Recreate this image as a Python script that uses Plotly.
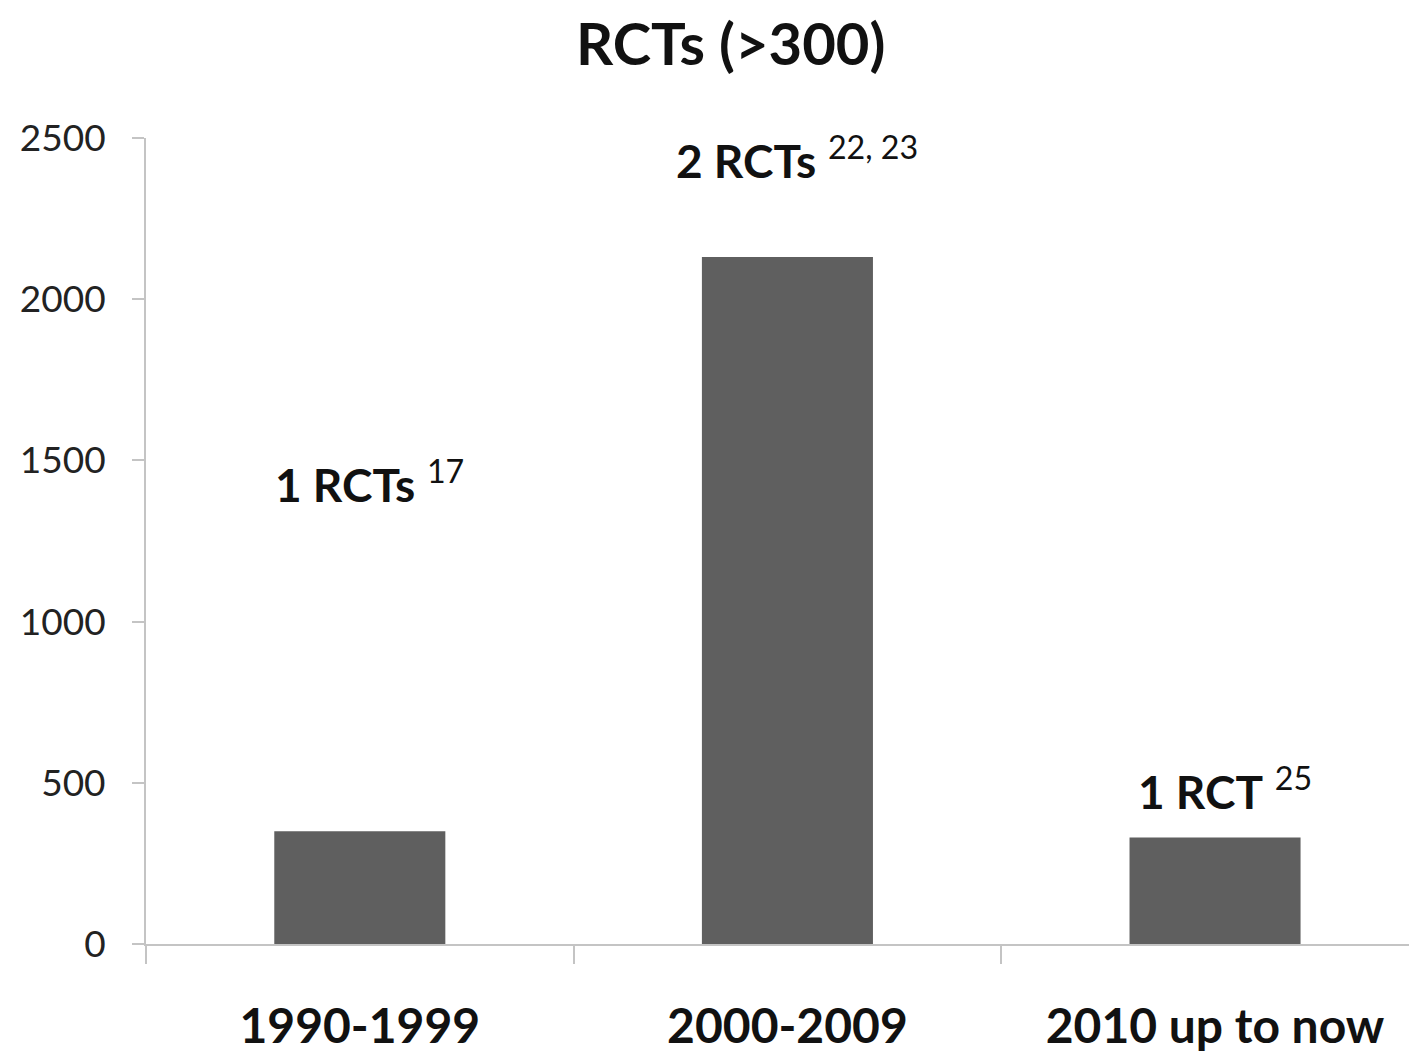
import plotly.graph_objects as go

categories = ["1990-1999", "2000-2009", "2010 up to now"]
values = [350, 2131, 330]
annotation_main = ["1 RCTs", "2 RCTs", "1 RCT"]
annotation_refs = ["17", "22, 23", "25"]
annotation_y = [1435, 2440, 482]
y_ticks = [0, 500, 1000, 1500, 2000, 2500]

FONT = "Lato"
fig = go.Figure()
fig.add_trace(go.Bar(x=categories, y=values, marker=dict(color="#5f5f5f", line=dict(width=0)),
                     width=0.4, showlegend=False))

for cat, main, ref, ya in zip(categories, annotation_main, annotation_refs, annotation_y):
    fig.add_annotation(x=cat, y=ya, xref="x", yref="y", text=f"<b>{main}</b> <sup>{ref}</sup>",
                       showarrow=False, xanchor="center", yanchor="middle", xshift=10,
                       font=dict(family=FONT, size=46, color="#111111"))

fig.update_layout(
    width=1417, height=1056,
    margin=dict(l=138, r=0, t=130, b=120),
    paper_bgcolor="white", plot_bgcolor="white",
    title=dict(text="<b>RCTs (>300)</b>", xref="container", x=0.510, xanchor="center",
               yref="container", y=1 - 37 / 1056, yanchor="middle",
               font=dict(family=FONT, size=58, color="#111111")),
    bargap=0.6,
)
fig.update_xaxes(type="category", range=[-0.5, 2.491], showline=True, linecolor="#c4c4c4", linewidth=2,
                 ticks="outside", tickson="boundaries", ticklen=18, tickcolor="#c4c4c4", tickwidth=2,
                 showgrid=False, zeroline=False, ticklabelstandoff=39,
                 tickvals=categories, ticktext=[f"<b>{c}</b>" for c in categories],
                 tickfont=dict(family=FONT, size=48, color="#111111"))
fig.update_yaxes(range=[0, 2500], tickvals=y_ticks, showline=True, linecolor="#c4c4c4", linewidth=2,
                 ticks="outside", ticklen=12, tickcolor="#c4c4c4", tickwidth=2,
                 showgrid=False, zeroline=False, ticklabelstandoff=19,
                 tickfont=dict(family=FONT, size=37, color="#222222"))

fig.write_html("out.html")
